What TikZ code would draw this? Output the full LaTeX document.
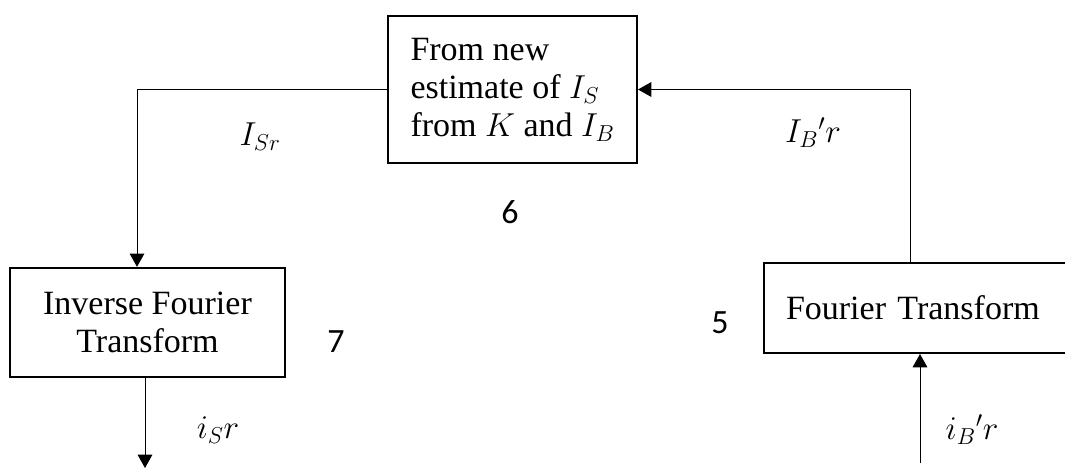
\documentclass[tikz,border=0pt]{standalone}
\usepackage{fontspec}
\setmainfont{Liberation Serif}
\newfontfamily\numfont{Carlito}
\usetikzlibrary{arrows.meta}
\newcommand{\blocksize}{\fontsize{25.5}{28.5}\selectfont}

\begin{document}
\begin{tikzpicture}[x=0.75pt,y=-0.75pt,
  box/.style={draw,line width=1.5pt,font=\blocksize,inner xsep=16.5pt,inner ysep=0pt},
  flow/.style={line width=0.75pt,-{Triangle[length=10pt,width=11pt]}},
  lbl/.style={font=\blocksize}]
  \clip (0,0) rectangle (1065,468);
  % blocks
  \node[box,align=left,inner xsep=0pt,minimum width=186.75pt,minimum height=110pt] (est) at (512.5,89.5)
    {From new\\estimate of $I_S$\\from $K$ and $I_B$};
  \node[box,align=center,minimum width=206pt,minimum height=82pt] (ift) at (147.5,322.5)
    {Inverse Fourier\\Transform};
  \node[box,anchor=west,align=left,text width=214.5pt,minimum height=67.5pt] (ft) at (763,308)
    {Fourier Transform};
  % bends and free ends
  \coordinate (lt) at (137,0);
  \coordinate (rt) at (910,0);
  \coordinate (out) at (145,468);
  \coordinate (in) at (920,463);
  % connectors
  \draw[flow] (in) -- (ft.south -| in);
  \draw[flow] (ft.north -| rt) |- (est.east);
  \draw[flow] (est.west) -| (lt |- ift.north);
  \draw[flow] (ift.south -| out) -- (out);
  % signal labels
  \node[lbl] (isr) at (260,137) {$I_{Sr}$};
  \node[lbl] (ibr) at (813,133) {$I_B{}'r$};
  \node[lbl] (is) at (218,430) {$i_S r$};
  \node[lbl] (ib) at (972,430) {$i_B{}'r$};
  % step numbers
  \foreach \x/\y/\n in {510/212/6, 336/342/7, 720/323/5}
    \node[font=\numfont\blocksize] (n\n) at (\x,\y) {\n};
\end{tikzpicture}
\end{document}
